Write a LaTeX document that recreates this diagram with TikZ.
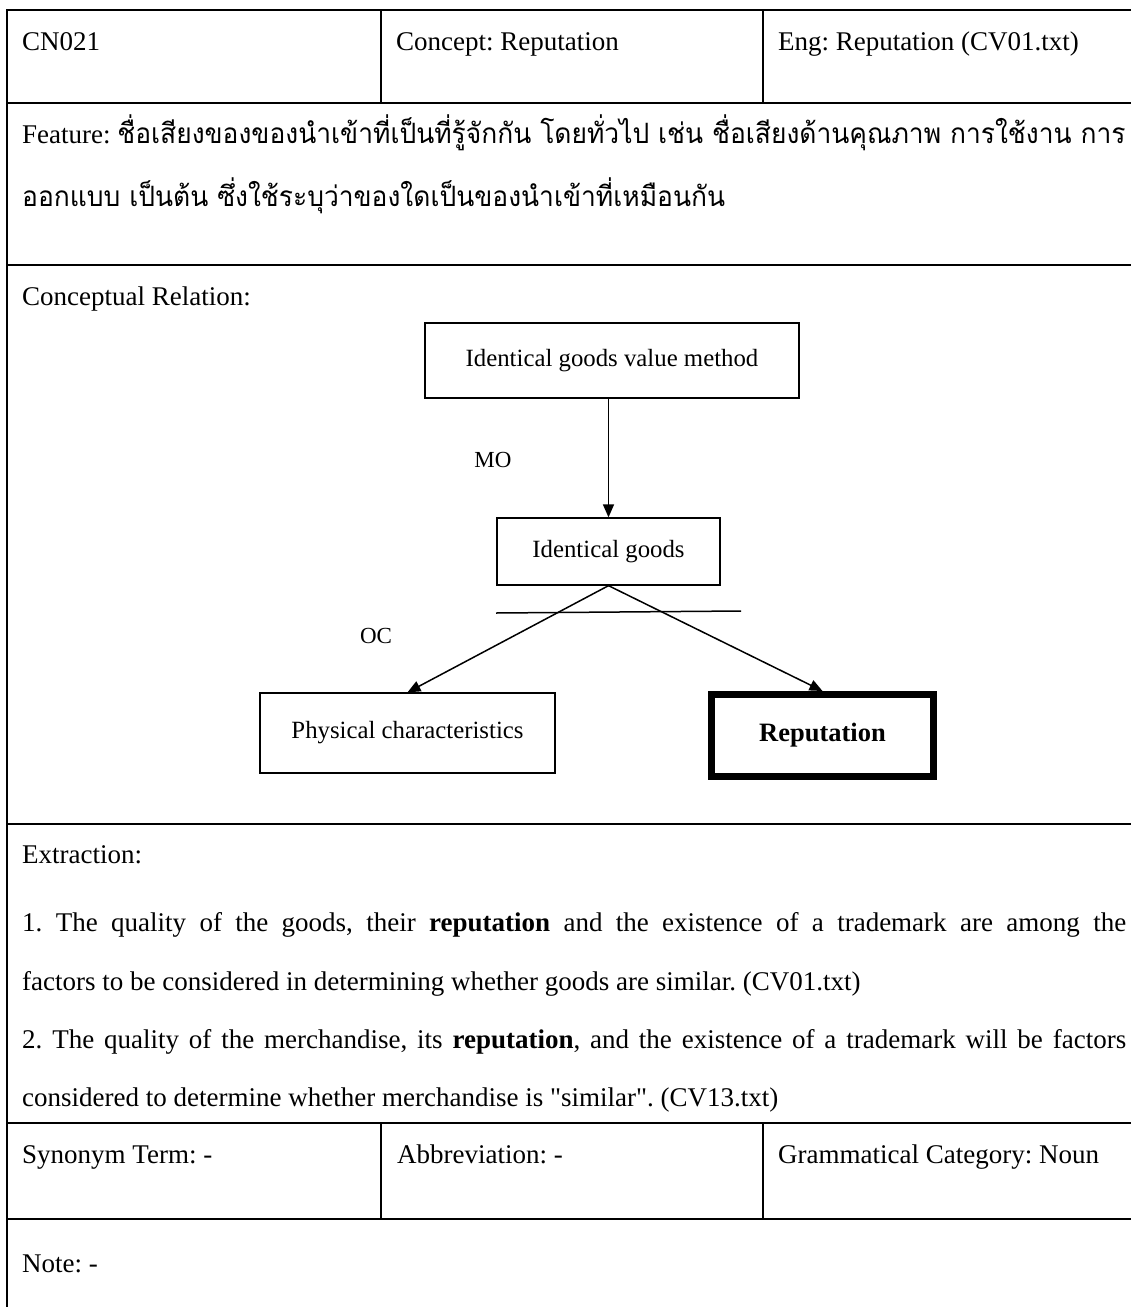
\documentclass[tikz,border=0pt]{standalone}
\usepackage{graphicx}
\usepackage{fontspec}
\setmainfont{Liberation Serif}[Ligatures=TeXOff]
\newfontfamily\thaifont[Script=Thai]{Loma}
\usetikzlibrary{arrows.meta}
\newsavebox\featlineA
\newsavebox\featlineB
\newlength\featwd
\frenchspacing
\begin{document}
% Thai feature text, condensed to the column width
\sbox\featlineA{\thaifont\fontsize{28}{34}\selectfont ชื่อเสียงของของนำเข้าที่เป็นที่รู้จักกัน โดยทั่วไป เช่น ชื่อเสียงด้านคุณภาพ การใช้งาน การ}%
\sbox\featlineB{\thaifont\fontsize{28}{34}\selectfont ออกแบบ เป็นต้น ซึ่งใช้ระบุว่าของใดเป็นของนำเข้าที่เหมือนกัน}%
\setlength\featwd{\wd\featlineA}%
\pgfmathsetmacro\thaiscale{1008/\featwd}%
\begin{tikzpicture}[x=1pt,y=-1pt,
  rule/.style={line width=2pt, line cap=rect},
  divider/.style={line width=1.3pt},
  cell/.style={anchor=base west, inner sep=0pt, font=\fontsize{27}{32}\selectfont},
  concept/.style={draw, line width=1.3pt, inner sep=0pt, font=\fontsize{24.8}{30}\selectfont},
  focus/.style={draw, line width=7pt, inner sep=0pt, font=\fontsize{26.5}{30}\selectfont\bfseries},
  rel/.style={line width=1.5pt, -{Triangle[length=13pt,width=11pt]}},
  rellabel/.style={inner sep=0pt, font=\fontsize{23}{28}\selectfont},
]
\useasboundingbox (0,0) rectangle (1131,1307);

% table rules
\draw[rule] (7,10) -- (1131,10);
\draw[rule] (7,103) -- (1131,103);
\draw[rule] (7,265) -- (1131,265);
\draw[rule] (7,824) -- (1131,824);
\draw[rule] (7,1123) -- (1131,1123);
\draw[rule] (7,1219) -- (1131,1219);
\draw[rule] (7,10) -- (7,1307);
\draw[divider] (381,10) -- (381,103);
\draw[divider] (763,10) -- (763,103);
\draw[divider] (381,1123) -- (381,1219);
\draw[divider] (763,1123) -- (763,1219);

% header row
\node[cell] (id) at (22,50) {CN021};
\node[cell] (cpt) at (396,50) {Concept: Reputation};
\node[cell] (eng) at (778,50) {Eng: Reputation (CV01.txt)};

% feature
\node[cell] (feat1) at (22,143) {Feature: \scalebox{\thaiscale}[1]{\usebox\featlineA}};
\node[cell] (feat2) at (22,206) {\scalebox{\thaiscale}[1]{\usebox\featlineB}};

% conceptual relation
\node[cell] (crel) at (22,305) {Conceptual Relation:};
\node[concept, minimum width=374pt, minimum height=75pt] (A) at (612,360.5) {Identical goods value method};
\node[concept, minimum width=223pt, minimum height=67pt] (B) at (608.5,551.5) {Identical goods};
\node[concept, minimum width=295pt, minimum height=80pt] (C) at (407.5,733) {Physical characteristics};
\node[focus, minimum width=222pt, minimum height=82pt] (D) at (822.5,735.5) {Reputation};
\draw[rel] (B.north |- A.south) -- (B.north);
\draw[rel] (B.south) -- (C.north);
\draw[rel] (B.south) -- (D.north);
\coordinate (xl) at (496,613);
\coordinate (xr) at (741,611);
\draw[line width=1.5pt] (xl) -- (xr);
\node[rellabel] (mo) at (493,460) {MO};
\node[rellabel] (oc) at (376,636) {OC};

% extraction
\node[cell] (ext) at (22,863) {Extraction:};
\node[cell] (ex1) at (22,931) {\makebox[1104pt][s]{1. The quality of the goods, their \textbf{reputation} and the existence of a trademark are among the}};
\node[cell] (ex2) at (22,990) {factors to be considered in determining whether goods are similar. (CV01.txt)};
\node[cell] (ex3) at (22,1048) {\makebox[1104pt][s]{2. The quality of the merchandise, its \textbf{reputation}, and the existence of a trademark will be factors}};
\node[cell] (ex4) at (22,1106) {considered to determine whether merchandise is "similar". (CV13.txt)};

% bottom rows
\node[cell] (syn) at (22,1163) {Synonym Term: -};
\node[cell] (abbr) at (397,1163) {Abbreviation: -};
\node[cell] (gram) at (778,1163) {Grammatical Category: Noun};
\node[cell] (note) at (22,1272) {Note: -};
\end{tikzpicture}
\end{document}
